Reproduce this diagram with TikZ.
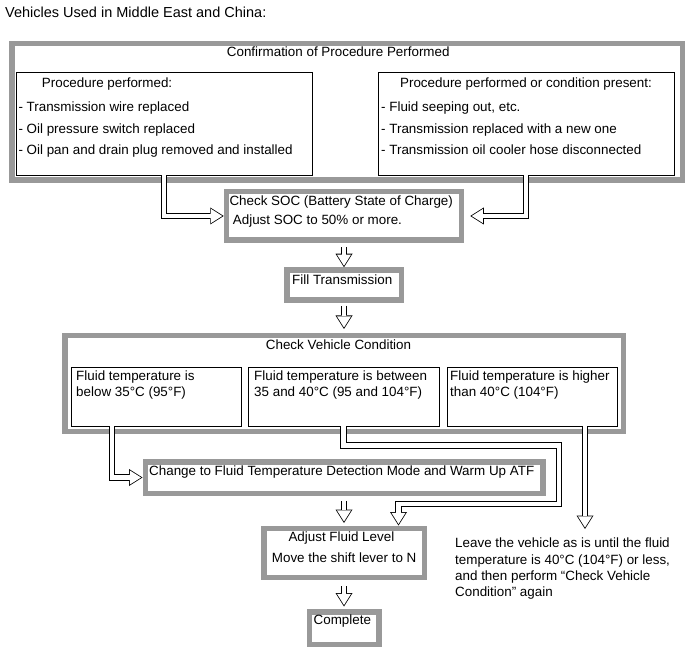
\documentclass[tikz,border=0pt]{standalone}
\usepackage{fontspec}
\setmainfont{Liberation Sans}
\usepackage{xcolor}
\usetikzlibrary{arrows.meta}
\definecolor{framegray}{HTML}{999999}
\newcommand{\stacked}[1]{\begin{tabular}[t]{@{}l@{}}#1\end{tabular}}
\tikzset{
	stepframe/.style={draw=framegray, line width=5.5pt},
	casebox/.style={draw, line width=0.9pt},
	txt/.style={inner sep=0pt, anchor=base west},
	hollow/.style={draw, line width=6.4pt,
		-{Triangle[length=13.5pt, width=17pt, line width=0pt]},
		postaction={draw=white, line width=4.8pt, shorten >=1.5pt,
			-{Triangle[length=11.2pt, width=14.1pt, line width=0pt, fill=white]}}}
}

\begin{document}
\begin{tikzpicture}[x=1pt, y=-1pt, font=\fontsize{13.4}{16.5}\selectfont]
		\useasboundingbox (0,0) rectangle (691,660);
		
		\node[txt, font=\fontsize{14.5}{16}\selectfont] (title) at (5,18) {Vehicles Used in Middle East and China:};
		
		\node[stepframe, minimum width=670.5pt, minimum height=136.5pt] (confirm) at (347,112) {};
		\node[txt] (confirmtxt) at (226.7,56.3) {Confirmation of Procedure Performed};
		
		\node[casebox, minimum width=296pt, minimum height=103pt] (procL) at (164,123.5) {};
		\node[txt] (procLhead) at (41.7,88) {Procedure performed:};
		\node[txt, font=\fontsize{13.4}{21.7}\selectfont] (procLlist) at (18.3,111.5) {\stacked{- Transmission wire replaced\\ - Oil pressure switch replaced\\ - Oil pan and drain plug removed and installed}};
		
		\node[casebox, minimum width=296pt, minimum height=103pt] (procR) at (526,123.5) {};
		\node[txt, anchor=base] (procRhead) at (526,88) {Procedure performed or condition present:};
		\node[txt, font=\fontsize{13.4}{21.7}\selectfont] (procRlist) at (381,111.5) {\stacked{- Fluid seeping out, etc.\\ - Transmission replaced with a new one\\ - Transmission oil cooler hose disconnected}};
		
		\node[stepframe, minimum width=235pt, minimum height=48.5pt] (soc) at (344,216) {};
		\node[txt] (soctxt) at (229.3,205.5) {Check SOC (Battery State of Charge)};
		\node[txt] (socadj) at (232.7,224.8) {Adjust SOC to 50\% or more.};
		
		\node[stepframe, minimum width=114.5pt, minimum height=30pt] (filltr) at (344,285) {};
		\node[txt] (filltxt) at (292,284.8) {Fill Transmission};
		
		\node[stepframe, minimum width=558.5pt, minimum height=95.5pt] (check) at (344,383.5) {};
		\node[txt] (checktxt) at (265.7,349.8) {Check Vehicle Condition};
		
		\node[casebox, minimum width=170pt, minimum height=59pt] (lowA) at (156,396.5) {};
		\node[txt] (lowAtxt) at (76,380.5) {\stacked{Fluid temperature is\\ below 35°C (95°F)}};
		
		\node[casebox, minimum width=191pt, minimum height=59pt] (midB) at (343.5,396.5) {};
		\node[txt] (midBtxt) at (254,380.5) {\stacked{Fluid temperature is between\\ 35 and 40°C (95 and 104°F)}};
		
		\node[casebox, minimum width=170pt, minimum height=59pt] (lowC) at (532,396.5) {};
		\node[txt] (lowCtxt) at (450,380.5) {\stacked{Fluid temperature is higher\\ than 40°C (104°F)}};
		
		\node[stepframe, minimum width=397.5pt, minimum height=31.5pt] (chg) at (344,477.5) {};
		\node[txt] (chgtxt) at (149,475.5) {Change to Fluid Temperature Detection Mode and Warm Up ATF};
		
		\node[stepframe, minimum width=160.5pt, minimum height=49pt] (adjust) at (344,552.75) {};
		\node[txt] (adjusttxt) at (288.3,541.5) {Adjust Fluid Level};
		\node[txt] (adjustN) at (271.7,562.8) {Move the shift lever to N};
		
		\node[stepframe, minimum width=69.5pt, minimum height=32.5pt] (complete) at (344,628) {};
		\node[txt] (completetxt) at (313.5,624.8) {Complete};
		
		\coordinate (leavetip) at (585,529);
		\node[txt, font=\fontsize{13.4}{16.3}\selectfont] (leave) at (455,547.8) {\stacked{Leave the vehicle as is until the fluid\\ temperature is 40°C (104°F) or less,\\ and then perform “Check Vehicle\\ Condition” again}};
		
		\draw[hollow] (procL.south) |- (soc.west);
		\draw[hollow] (procR.south) |- ([xshift=6pt]soc.east);
		\draw[hollow] ([yshift=-4pt]soc.south) -- (filltr.north);
		\draw[hollow] ([yshift=-3pt]filltr.south) -- ([yshift=4pt]check.north);
		\draw[hollow] ([xshift=-44pt]lowA.south) |- (chg.west);
		\draw[hollow] (midB.south) -- ++(0,19) -| ++(215.5,58.5) -| ([xshift=54.5pt]adjust.north);
		\draw[hollow] (lowC.south -| leavetip) -- (leavetip);
		\draw[hollow] ([yshift=-5pt]chg.south) -- ([yshift=2.5pt]adjust.north);
		\draw[hollow] ([yshift=-6pt]adjust.south) -- ([yshift=2.5pt]complete.north);
	\end{tikzpicture}
\end{document}
